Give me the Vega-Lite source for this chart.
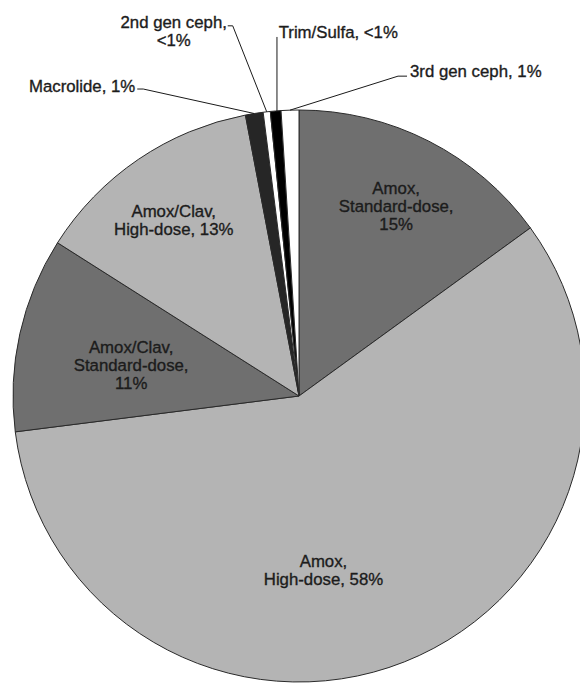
{
  "$schema": "https://vega.github.io/schema/vega-lite/v6.json",
  "width": 598,
  "height": 792,
  "padding": 0,
  "autosize": {"type": "none"},
  "background": "white",
  "view": {"stroke": null},
  "config": {
    "text": {"font": "Liberation Sans, Arial, sans-serif", "fontSize": 16.8, "lineHeight": 18, "fill": "#1c1c1c", "stroke": "#1c1c1c", "strokeWidth": 0.35, "lineBreak": "\n", "baseline": "middle"}
  },
  "data": {
    "values": [
      {"n": 1, "drug": "Amox, Standard-dose", "pct": 15, "label": "Amox,\nStandard-dose,\n15%"},
      {"n": 2, "drug": "Amox, High-dose", "pct": 58, "label": "Amox,\nHigh-dose, 58%"},
      {"n": 3, "drug": "Amox/Clav, Standard-dose", "pct": 11, "label": "Amox/Clav,\nStandard-dose,\n11%"},
      {"n": 4, "drug": "Amox/Clav, High-dose", "pct": 13, "label": "Amox/Clav,\nHigh-dose, 13%"},
      {"n": 5, "drug": "Macrolide", "pct": 1, "label": "Macrolide, 1%"},
      {"n": 6, "drug": "2nd gen ceph", "pct": 0.4, "label": "2nd gen ceph,\n<1%"},
      {"n": 7, "drug": "Trim/Sulfa", "pct": 0.6, "label": "Trim/Sulfa, <1%"},
      {"n": 8, "drug": "3rd gen ceph", "pct": 1, "label": "3rd gen ceph, 1%"}
    ]
  },
  "layer": [
    {
      "mark": {"type": "arc", "outerRadius": 286, "stroke": "#2a2a2a", "strokeWidth": 1},
      "encoding": {
        "theta": {"field": "pct", "type": "quantitative", "stack": true},
        "order": {"field": "n", "type": "quantitative"},
        "color": {
          "field": "drug",
          "type": "nominal",
          "legend": null,
          "scale": {
            "domain": ["Amox, Standard-dose", "Amox, High-dose", "Amox/Clav, Standard-dose", "Amox/Clav, High-dose", "Macrolide", "2nd gen ceph", "Trim/Sulfa", "3rd gen ceph"],
            "range": ["#6f6f6f", "#b4b4b4", "#6f6f6f", "#b4b4b4", "#262626", "#ffffff", "#000000", "#ffffff"]
          }
        }
      }
    },
    {
      "mark": {"type": "text", "radius": 214, "dy": -16, "align": "center"},
      "encoding": {
        "theta": {"field": "pct", "type": "quantitative", "stack": true},
        "order": {"field": "n", "type": "quantitative"},
        "text": {"condition": {"test": "datum.drug === 'Amox, Standard-dose'", "field": "label"}, "value": ""}
      }
    },
    {
      "mark": {"type": "text", "radius": 214, "dx": -5, "dy": -7, "align": "center"},
      "encoding": {
        "theta": {"field": "pct", "type": "quantitative", "stack": true},
        "order": {"field": "n", "type": "quantitative"},
        "text": {"condition": {"test": "datum.drug === 'Amox/Clav, High-dose'", "field": "label"}, "value": ""}
      }
    },
    {
      "mark": {"type": "text", "radius": 172, "dy": -10, "align": "center"},
      "encoding": {
        "theta": {"field": "pct", "type": "quantitative", "stack": true},
        "order": {"field": "n", "type": "quantitative"},
        "text": {"condition": {"test": "datum.drug === 'Amox/Clav, Standard-dose'", "field": "label"}, "value": ""}
      }
    },
    {
      "mark": {"type": "text", "radius": 186, "dx": -44, "dy": -7, "align": "center"},
      "encoding": {
        "theta": {"field": "pct", "type": "quantitative", "stack": true},
        "order": {"field": "n", "type": "quantitative"},
        "text": {"condition": {"test": "datum.drug === 'Amox, High-dose'", "field": "label"}, "value": ""}
      }
    },
    {
      "mark": {"type": "text", "radius": 286, "dx": -119, "dy": -27, "align": "right"},
      "encoding": {
        "theta": {"field": "pct", "type": "quantitative", "stack": true},
        "order": {"field": "n", "type": "quantitative"},
        "text": {"condition": {"test": "datum.drug === 'Macrolide'", "field": "label"}, "value": ""}
      }
    },
    {
      "mark": {"type": "text", "radius": 286, "dx": -93, "dy": -89, "align": "center"},
      "encoding": {
        "theta": {"field": "pct", "type": "quantitative", "stack": true},
        "order": {"field": "n", "type": "quantitative"},
        "text": {"condition": {"test": "datum.drug === '2nd gen ceph'", "field": "label"}, "value": ""}
      }
    },
    {
      "mark": {"type": "text", "radius": 286, "dx": 3, "dy": -78, "align": "left"},
      "encoding": {
        "theta": {"field": "pct", "type": "quantitative", "stack": true},
        "order": {"field": "n", "type": "quantitative"},
        "text": {"condition": {"test": "datum.drug === 'Trim/Sulfa'", "field": "label"}, "value": ""}
      }
    },
    {
      "mark": {"type": "text", "radius": 286, "dx": 120, "dy": -38, "align": "left"},
      "encoding": {
        "theta": {"field": "pct", "type": "quantitative", "stack": true},
        "order": {"field": "n", "type": "quantitative"},
        "text": {"condition": {"test": "datum.drug === '3rd gen ceph'", "field": "label"}, "value": ""}
      }
    },
    {
      "transform": [
        {"stack": "pct", "groupby": [], "sort": [{"field": "n", "order": "ascending"}], "as": ["s0", "s1"]},
        {"joinaggregate": [{"op": "sum", "field": "pct", "as": "total"}]},
        {"filter": "datum.pct < 2"},
        {"calculate": "PI * (datum.s0 + datum.s1) / datum.total", "as": "mid"},
        {"calculate": "286 * sin(datum.mid)", "as": "ex"},
        {"calculate": "-286 * cos(datum.mid)", "as": "ey"}
      ],
      "mark": {"type": "point", "filled": false, "stroke": "#1a1a1a", "strokeWidth": 1, "opacity": 1, "size": 4},
      "encoding": {
        "x": {"field": "ex", "type": "quantitative", "axis": null, "scale": {"domain": [-299, 299], "nice": false, "zero": false}},
        "y": {"field": "ey", "type": "quantitative", "axis": null, "scale": {"domain": [-396, 396], "nice": false, "zero": false, "reverse": true}},
        "shape": {
          "field": "drug",
          "type": "nominal",
          "legend": null,
          "scale": {
            "domain": ["Macrolide", "2nd gen ceph", "Trim/Sulfa", "3rd gen ceph"],
            "range": ["M0,0L-111,-24.5L-117,-24.5", "M0,0L-34,-86L-39,-86", "M1.3,0L1.3,-74", "M0,0L108,-34L117,-34"]
          }
        }
      }
    }
  ]
}
